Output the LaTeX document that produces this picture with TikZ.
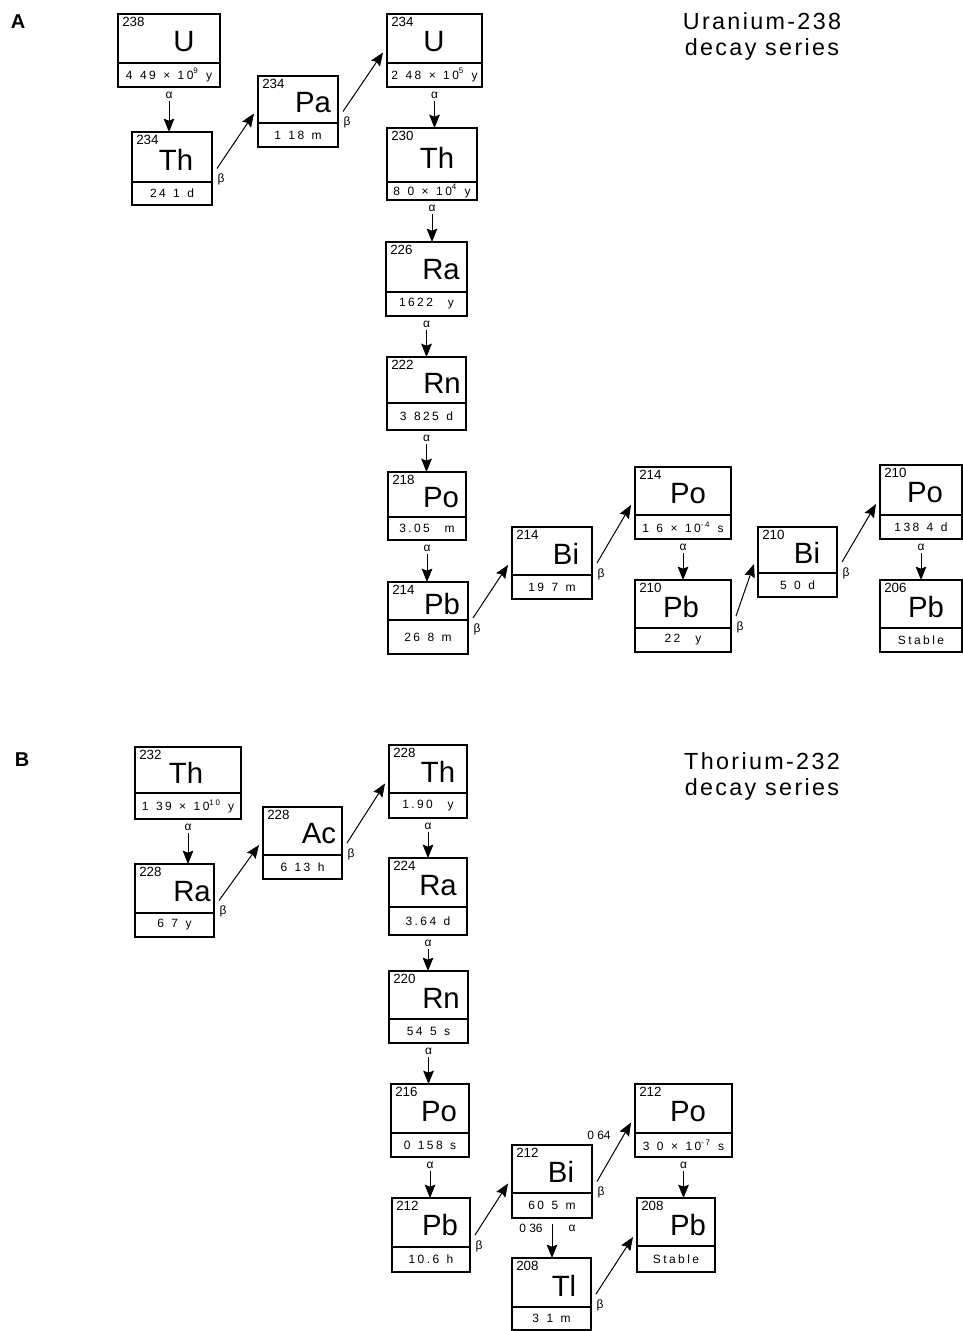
\documentclass[tikz,border=0pt]{standalone}
\usepackage{fontspec}
\setmainfont{Liberation Sans}
\newfontfamily\hlfam[LetterSpace=20,WordSpace=1.3]{Liberation Sans}
\newfontfamily\ttlfam[LetterSpace=10]{Liberation Sans}
\usetikzlibrary{calc,arrows.meta}
\def\nucgeom#1,#2,#3,#4,#5,#6\relax{%
  \def\nucl{#1}\def\nuct{#2}\def\nucr{#3}\def\nucb{#4}\def\nucd{#5}\def\nucsx{#6}%
  \pgfmathsetmacro\nucw{(#3-#1)*0.75}\pgfmathsetmacro\nuch{(#4-#2)*0.75}%
  \pgfmathsetmacro\nucx{(#1+#3)/2}\pgfmathsetmacro\nucy{(#2+#4)/2}}
\newcommand\nuc[5]{%
  \nucgeom#2\relax
  \node[nucbox, minimum width=\nucw pt, minimum height=\nuch pt] (#1) at (\nucx,\nucy) {};
  \draw[boxline] (\nucl,\nucd) -- (\nucr,\nucd);
  \node[massnum] (#1-m) at (\nucl+4,\nuct+3) {#3};
  \node[symb] (#1-s) at (\nucsx,{(\nuct+\nucd)/2+3}) {#4};
  \node[hlife] (#1-h) at ({(\nucl+\nucr)/2},{(\nucd+\nucb)/2}) {#5};
}
\newcommand\adecay[2]{%
  \draw[decay] ($(#1.south)+(0,14)$) -- (#1.south |- #2.north);
  \node[dlabel] (#1-#2-l) at ($(#1.south)+(0,8)$) {α};
}
\newcommand\bdecay[2]{%
  \draw[decay] ($(#1.east)+(5,0)$) -- ($(#2.west)+(-4,2)$);
  \node[dlabel] (#1-#2-l) at ($(#1.east)+(9,11)$) {β};
}
\begin{document}
\begin{tikzpicture}[x=0.75pt,y=-0.75pt,
  nucbox/.style={draw, line width=1.1pt, rectangle, inner sep=0pt, outer sep=0pt},
  boxline/.style={line width=1.1pt},
  massnum/.style={font=\fontsize{10}{11}\selectfont, inner sep=0pt, anchor=north west},
  symb/.style={font=\fontsize{22}{24}\selectfont, inner sep=0pt},
  hlife/.style={font=\hlfam\fontsize{9}{10}\selectfont, inner sep=0pt},
  decay/.style={-{Stealth[length=10pt,width=8pt,inset=1.5pt]}, line width=0.75pt},
  dlabel/.style={font=\fontsize{9}{10}\selectfont, inner sep=0pt},
  ttl/.style={font=\ttlfam\fontsize{17.5}{19.5}\selectfont, align=center, inner sep=0pt},
  panel/.style={font=\bfseries\fontsize{15}{16}\selectfont, inner sep=0pt}]
\useasboundingbox (0,0) rectangle (963,1331);
\fill[white] (0,0) rectangle (963,1331);

% ---------- Panel A ----------
\node[panel] (pA) at (18,22) {A};
\node[ttl] (tA) at (762,36) {Uranium-238\\decay series};

\nuc{U238}{118,14,220,87,63,184}{238}{U}{4 49 × 10\textsuperscript{9} y}
\nuc{Th234}{132,132,212,205,182,176}{234}{Th}{24 1 d}
\nuc{Pa234}{258,76,338,147,123,313}{234}{Pa}{1 18 m}
\nuc{U234}{387,14,482,87,63,434}{234}{U}{2 48 × 10\textsuperscript{5} y}
\nuc{Th230}{387,128,477,200,182,437}{230}{Th}{8 0 × 10\textsuperscript{4} y}
\nuc{Ra226}{386,242,467,316,292,441}{226}{Ra}{1622~~y}
\nuc{Rn222}{387,357,466,430,403,442}{222}{Rn}{3 825 d}
\nuc{Po218}{388,472,466,540,517,441}{218}{Po}{3.05~~m}
\nuc{Pb214}{388,582,468,654,620,442}{214}{Pb}{26 8 m}
\nuc{Bi214}{512,527,592,599,575,566}{214}{Bi}{19 7 m}
\nuc{Po214}{635,467,731,539,515,688}{214}{Po}{1 6 × 10\textsuperscript{-4} s}
\nuc{Pb210}{635,580,731,652,628,681}{210}{Pb}{22~~y}
\nuc{Bi210}{758,527,837,597,573,807}{210}{Bi}{5 0 d}
\nuc{Po210}{880,465,962,539,515,925}{210}{Po}{138 4 d}
\nuc{Pb206}{880,580,962,652,628,926}{206}{Pb}{Stable}

\adecay{U238}{Th234}
\bdecay{Th234}{Pa234}
\bdecay{Pa234}{U234}
\adecay{U234}{Th230}
\adecay{Th230}{Ra226}
\adecay{Ra226}{Rn222}
\adecay{Rn222}{Po218}
\adecay{Po218}{Pb214}
\bdecay{Pb214}{Bi214}
\bdecay{Bi214}{Po214}
\adecay{Po214}{Pb210}
\bdecay{Pb210}{Bi210}
\bdecay{Bi210}{Po210}
\adecay{Po210}{Pb206}

% ---------- Panel B ----------
\node[panel] (pB) at (22,760) {B};
\node[ttl] (tB) at (762,776) {Thorium-232\\decay series};

\nuc{Th232}{135,747,241,819,793,186}{232}{Th}{1 39 × 10\textsuperscript{10} y}
\nuc{Ra228}{135,864,214,937,913,192}{228}{Ra}{6 7 y}
\nuc{Ac228}{263,807,342,879,855,319}{228}{Ac}{6 13 h}
\nuc{Th228}{389,745,467,818,793,438}{228}{Th}{1.90~~y}
\nuc{Ra224}{389,858,467,935,907,438}{224}{Ra}{3.64 d}
\nuc{Rn220}{389,971,468,1043,1019,441}{220}{Rn}{54 5 s}
\nuc{Po216}{391,1084,469,1157,1133,439}{216}{Po}{0 158 s}
\nuc{Pb212}{392,1198,470,1272,1247,440}{212}{Pb}{10.6 h}
\nuc{Bi212}{512,1145,592,1218,1193,561}{212}{Bi}{60 5 m}
\nuc{Po212}{635,1084,732,1157,1133,688}{212}{Po}{3 0 × 10\textsuperscript{-7} s}
\nuc{Pb208}{637,1198,715,1272,1246,688}{208}{Pb}{Stable}
\nuc{Tl208}{512,1258,591,1330,1307,564}{208}{Tl}{3 1 m}

\adecay{Th232}{Ra228}
\bdecay{Ra228}{Ac228}
\bdecay{Ac228}{Th228}
\adecay{Th228}{Ra224}
\adecay{Ra224}{Rn220}
\adecay{Rn220}{Po216}
\adecay{Po216}{Pb212}
\bdecay{Pb212}{Bi212}
\bdecay{Bi212}{Po212}
\node[dlabel] (f064) at ($(Bi212.east)+(7,-46)$) {0 64};
\draw[decay] ($(Bi212.south)+(0,6)$) -- (Bi212.south |- Tl208.north);
\node[dlabel] (Bi212-Tl208-l) at ($(Bi212.south)+(20,10)$) {α};
\node[dlabel] (f036) at ($(Bi212.south)+(-21,10)$) {0 36};
\adecay{Po212}{Pb208}
\bdecay{Tl208}{Pb208}
\end{tikzpicture}
\end{document}
